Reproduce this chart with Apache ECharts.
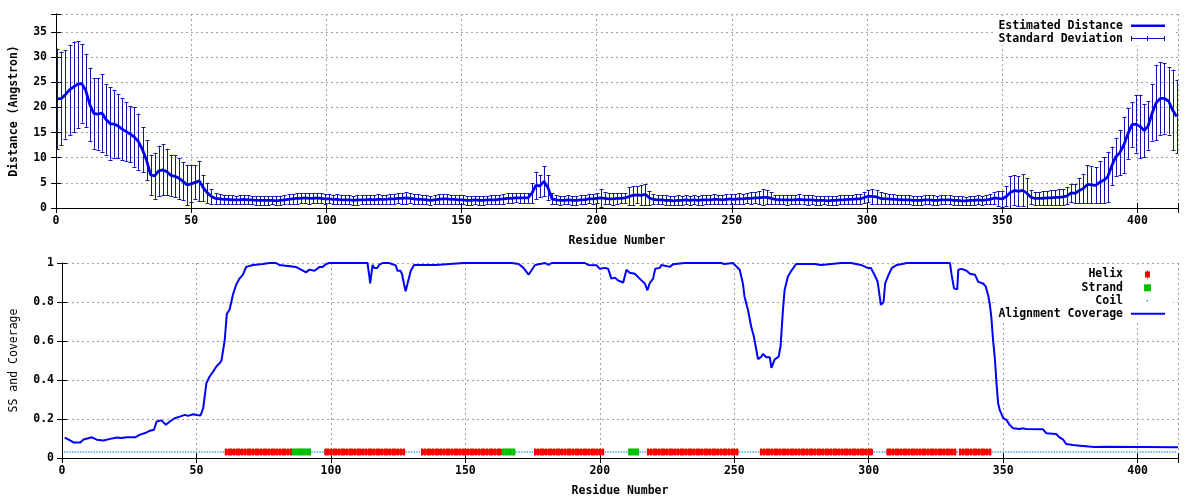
<!DOCTYPE html>
<html><head><meta charset="utf-8">
<script src="https://cdn.jsdelivr.net/npm/echarts@6/dist/echarts.min.js"></script>
<style>html,body{margin:0;padding:0;background:#fff}#c{width:1200px;height:500px}</style>
</head><body><div id="c"></div>
<script>
// ---------- data ----------
const xTickStep = 50;
const residueMax = 415;
const distYMax = 38.6;
const distStart = 0.5, distStep = 1.5;   // residue position of the first estimate, spacing of estimates
const distMean = [
21.7,21.8,22.6,23.5,24.1,24.6,24.8,23.4,20.6,18.8,
18.7,18.9,17.6,16.8,16.7,16.3,15.7,15.2,14.7,14.1,
13.2,11.6,9.5,6.6,6.4,7.4,7.6,7.2,6.5,6.3,
5.9,5.3,4.6,4.8,5.1,5.4,4.0,3.0,2.3,1.9,
1.8,
1.7,1.7,1.6,1.6,1.6,1.7,1.6,1.6,1.5,1.5,
1.5,1.5,1.5,1.4,1.5,1.6,1.7,1.8,1.9,1.9,
2.0,1.9,1.9,2.0,1.9,1.8,1.8,1.7,1.7,1.6,
1.6,1.6,1.5,1.6,1.6,1.6,1.7,1.6,1.7,1.7,
1.7,1.8,1.8,1.9,1.9,2.0,1.9,1.8,1.7,1.7,
1.6,1.5,1.6,1.7,1.8,1.8,1.7,1.7,1.6,1.6,
1.5,1.5,1.6,1.5,1.5,1.6,1.6,1.6,1.7,1.8,
1.9,1.9,2.0,2.0,2.0,2.0,2.9,4.5,4.4,5.3,
4.0,1.8,1.6,1.5,1.5,1.6,1.5,1.5,1.6,1.6,
1.8,1.8,1.9,2.0,1.9,1.8,1.8,1.9,1.9,2.0,
2.3,2.5,2.6,2.5,2.7,2.0,1.7,1.6,1.6,1.5,
1.5,1.4,1.5,1.5,1.6,1.5,1.6,1.5,1.6,1.6,
1.6,1.7,1.7,1.6,1.7,1.8,1.7,1.8,1.8,1.9,
1.9,2.0,2.0,2.1,2.1,1.9,1.7,1.6,1.6,1.6,
1.6,1.6,1.7,1.6,1.6,1.6,1.5,1.5,1.5,1.4,
1.5,1.5,1.6,1.6,1.7,1.7,1.8,1.8,2.1,2.3,
2.3,2.2,1.9,1.8,1.8,1.7,1.7,1.6,1.6,1.6,
1.5,1.5,1.5,1.6,1.6,1.5,1.5,1.6,1.6,1.6,
1.5,1.5,1.4,1.4,1.5,1.5,1.6,1.5,1.6,1.7,
2.0,1.9,1.8,2.3,3.1,3.5,3.3,3.5,3.0,2.2,
1.9,1.9,1.9,2.0,2.0,2.1,2.1,2.2,2.4,3.0,
2.9,3.5,3.9,4.7,4.6,4.5,5.1,5.5,6.2,8.4,
10.2,11.0,12.6,14.8,16.6,16.7,16.2,15.4,16.4,19.0,
21.0,21.8,21.8,21.3,19.5,18.2
];
const distSd = [
10.0,9.3,8.8,9.0,9.0,8.6,7.8,7.3,7.3,7.0,
7.1,7.7,7.0,7.2,6.7,6.4,6.2,5.9,5.6,5.9,
5.6,4.5,4.0,4.0,4.6,5.0,5.1,4.6,4.1,4.2,
4.1,3.8,4.0,3.7,3.4,4.0,2.6,2.0,1.5,1.1,
1.0,
0.9,0.9,0.9,0.8,0.9,0.9,0.9,0.8,0.9,0.9,
0.9,0.9,0.8,0.9,0.9,0.9,1.0,1.0,1.1,1.0,
1.0,1.1,1.0,1.0,1.0,1.0,0.9,0.9,1.0,0.9,
0.9,0.9,0.9,1.0,0.9,0.9,0.9,0.9,1.0,0.9,
0.9,1.0,1.0,1.0,1.1,1.2,1.0,1.0,1.0,0.9,
0.9,0.9,0.9,1.0,1.0,1.0,0.9,0.9,0.9,0.9,
0.9,0.9,0.8,0.9,0.9,0.8,0.9,0.9,0.9,1.0,
1.0,1.0,0.9,1.0,1.0,1.0,2.0,2.7,2.2,3.0,
2.5,1.1,0.9,0.9,0.8,0.9,0.9,0.9,0.9,0.9,
0.9,1.0,1.0,1.8,1.2,1.1,1.2,1.1,1.0,1.0,
1.8,1.9,1.7,2.0,2.1,1.4,1.0,0.9,0.9,1.0,
0.9,0.9,1.0,0.9,0.9,0.9,0.9,0.9,1.0,0.9,
0.9,1.0,0.9,0.9,1.0,1.0,1.0,1.1,1.0,1.0,
1.2,1.1,1.3,1.6,1.4,1.2,0.9,0.9,0.9,1.0,
0.9,0.9,1.0,0.9,1.0,0.9,0.9,0.9,0.8,0.9,
0.9,0.9,0.9,0.9,0.9,0.9,1.0,1.0,1.1,1.2,
1.5,1.4,1.2,1.1,1.0,1.0,0.9,0.9,0.9,0.9,
0.9,0.9,0.9,0.9,0.9,1.0,0.9,0.9,0.9,0.9,
0.9,0.9,0.9,0.8,0.9,0.9,0.9,0.9,0.9,1.0,
1.2,1.5,1.6,2.0,3.2,3.0,3.0,3.2,3.0,1.4,
1.3,1.3,1.4,1.4,1.5,1.5,1.6,1.6,1.7,1.8,
1.9,2.5,2.9,3.8,3.7,3.6,4.2,4.6,5.0,3.8,
3.8,4.5,5.6,5.0,4.4,5.7,6.3,5.3,4.8,5.6,
7.5,7.2,7.0,6.7,8.0,7.3
];
const covResidue = [1,2.5,4.3,6.8,8,8.6,11.1,12.9,15.4,17.9,20.4,22.2,24.1,27.2,27.8,29,30.9,32.7,34.2,35.2,37,38.6,40.1,41.9,43.8,45.7,46.9,48.8,50,51.5,52.5,53.7,54.9,56.2,57.4,58.6,59.3,60.5,61.3,62.3,63.6,64.8,66,67.3,68.5,71,74.7,77.1,79.6,80.8,87.1,90.8,92,93.9,95.7,96.9,98.2,99.4,113.6,114.2,114.6,115.5,116.1,117.3,117.9,119.2,121.6,122.2,124.1,124.7,125.9,126.5,127.2,127.8,128.4,129.7,130.9,138.9,149.4,167.3,169.8,171.6,173.5,174.1,175.9,179.6,180.9,182.1,194.4,195.7,198.8,200,201.9,203.1,204.3,205.6,206.8,208.7,209.9,211.1,213,214.8,216.7,217.7,218.5,219.8,220.6,222.3,222.9,226,227.2,231.5,245.1,246.4,249.5,250.1,252,253.2,253.8,255.1,256.3,257.3,258.2,258.8,260.1,260.7,261.9,263.2,263.8,265,266.5,267.2,268.1,268.7,269.9,271.2,273,279.8,282.3,289.7,293.4,297.1,299.6,300.8,302.1,303.3,303.9,304.5,305.5,306.1,307.4,308.6,310.5,314.2,330.2,330.8,331.7,332.9,333.3,334.5,336.4,337.6,339.5,340.7,342.5,343.5,344.4,345,345.6,346.2,346.9,347.5,348.1,348.7,350,351.2,352.4,353.7,356.1,357.4,358.6,364.8,366,369.7,370.9,372.2,373.4,375.9,379.6,380.2,383.9,384.5,388.2,388.8,415];
const covValue = [0.105,0.094,0.08,0.08,0.095,0.102,0.106,0.094,0.09,0.098,0.105,0.102,0.106,0.106,0.098,0.12,0.128,0.14,0.145,0.187,0.193,0.17,0.187,0.204,0.212,0.221,0.216,0.224,0.221,0.218,0.256,0.384,0.418,0.443,0.469,0.486,0.5,0.603,0.74,0.76,0.84,0.89,0.92,0.94,0.98,0.99,0.995,1.0,1.0,0.99,0.979,0.952,0.966,0.96,0.979,0.979,0.995,1.0,1.0,0.94,0.895,0.99,0.975,0.975,0.99,1.0,1.0,0.99,0.988,0.96,0.96,0.94,0.89,0.855,0.89,0.96,0.99,0.99,1.0,1.0,0.995,0.975,0.94,0.94,0.99,1.0,0.99,1.0,1.0,0.99,0.988,0.97,0.975,0.97,0.92,0.925,0.91,0.9,0.965,0.95,0.945,0.92,0.895,0.86,0.895,0.92,0.97,0.975,0.99,0.98,0.993,1.0,1.0,0.995,1.0,0.99,0.965,0.895,0.827,0.759,0.673,0.622,0.554,0.507,0.52,0.534,0.517,0.517,0.462,0.505,0.52,0.572,0.76,0.86,0.93,0.96,0.995,0.995,0.99,1.0,1.0,0.99,0.975,0.975,0.94,0.905,0.845,0.785,0.8,0.895,0.94,0.975,0.99,1.0,1.0,0.94,0.87,0.865,0.965,0.97,0.96,0.945,0.94,0.903,0.895,0.88,0.835,0.79,0.72,0.61,0.51,0.384,0.281,0.247,0.204,0.195,0.17,0.152,0.149,0.152,0.149,0.147,0.127,0.123,0.106,0.096,0.072,0.067,0.062,0.056,0.056,0.058,0.058,0.055,0.055];
const seqLength = 414;
const helixRanges = [[61,85],[98,127],[134,163],[176,201],[218,251],[260,301],[307,332],[334,345]];
const strandRanges = [[86,88],[89,92],[164,168],[211,214]];
const ssLevel = 0.031;

// ---------- build series data ----------
const distData = distMean.map((m, i) => [distStart + i * distStep, m, distSd[i]]);
const meanData = distMean.map((m, i) => [distStart + i * distStep, m]);
const covData = covResidue.map((r, i) => [r, covValue[i]]);
const ssOf = {};
helixRanges.forEach(([a, b]) => { for (let r = a; r <= b; r++) ssOf[r] = 'H'; });
strandRanges.forEach(([a, b]) => { for (let r = a; r <= b; r++) ssOf[r] = 'E'; });
const helixData = [], strandData = [], coilData = [];
for (let r = 1; r <= seqLength; r++) {
  const s = ssOf[r] || 'C';
  if (s === 'H') helixData.push([r, ssLevel]);
  else if (s === 'E') strandData.push([r, ssLevel]);
  else coilData.push([r, ssLevel]);
}

// ---------- styling ----------
const FONT = 'DejaVu Sans Mono';
const lbl = {fontFamily: FONT, fontWeight: 'bold', fontSize: 11.5, color: '#000'};
const gridLine = {show: true, lineStyle: {color: '#a0a0a0', type: [2, 3], width: 1}};
const axLine = {show: true, lineStyle: {color: '#000', width: 1}};
const tickIn = {show: true, inside: true, length: 5, lineStyle: {color: '#000'}};
const errColor = '#1212b0', meanColor = '#0000f0', covColor = '#0000ff';
const helixColor = '#ff0000', strandColor = '#00c000', coilColor = '#1a8cff';

function xAx(grid, pos, main, name) {
  return {gridIndex: grid, type: 'value', position: pos, min: 0, max: residueMax, interval: xTickStep,
    axisLine: axLine, axisTick: tickIn,
    axisLabel: main ? Object.assign({margin: 7, formatter: v => (v % xTickStep === 0 ? String(v) : '')}, lbl) : {show: false},
    splitLine: main ? gridLine : {show: false},
    name: main ? name : '', nameLocation: 'middle', nameGap: 27, nameTextStyle: lbl};
}

const errRender = (params, api) => {
  const x = api.value(0), m = api.value(1), s = api.value(2);
  const top = api.coord([x, m + s]), bot = api.coord([x, m - s]);
  const px = Math.round(top[0]) + 0.5, w = 2;
  const st = {stroke: errColor, lineWidth: 1, fill: null};
  return {type: 'group', children: [
    {type: 'line', shape: {x1: px, y1: top[1], x2: px, y2: bot[1]}, style: st},
    {type: 'line', shape: {x1: px - w, y1: Math.round(top[1]) + 0.5, x2: px + w, y2: Math.round(top[1]) + 0.5}, style: st},
    {type: 'line', shape: {x1: px - w, y1: Math.round(bot[1]) + 0.5, x2: px + w, y2: Math.round(bot[1]) + 0.5}, style: st}
  ]};
};
const helixRender = (params, api) => {
  const p = api.coord([api.value(0), api.value(1)]);
  const w = api.size([1, 0])[0];
  return {type: 'group', children: [
    {type: 'rect', shape: {x: p[0] - w / 2, y: p[1] - 3, width: w + 0.3, height: 6}, style: {fill: helixColor}},
    {type: 'rect', shape: {x: Math.round(p[0]) - 0.5, y: p[1] - 4, width: 1, height: 8}, style: {fill: helixColor}}
  ]};
};
const strandRender = (params, api) => {
  const p = api.coord([api.value(0), api.value(1)]);
  const w = api.size([1, 0])[0];
  return {type: 'rect', shape: {x: p[0] - w / 2, y: p[1] - 3.5, width: w + 0.3, height: 7}, style: {fill: strandColor}};
};

const txt = (t, x, y) => ({type: 'text', z: 101, style: {text: t, x, y, font: 'bold 11.5px ' + FONT, fill: '#000', align: 'right', verticalAlign: 'middle', textAlign: 'right', textVerticalAlign: 'middle'}});
const ln = (x1, y1, x2, y2, c, w) => ({type: 'line', z: 101, shape: {x1, y1, x2, y2}, style: {stroke: c, lineWidth: w}});

const option = {
  animation: false,
  backgroundColor: '#fff',
  grid: [
    {left: 52, top: 14, width: 1126, height: 194},
    {left: 58, top: 263, width: 1120, height: 195}
  ],
  xAxis: [
    xAx(0, 'bottom', true, 'Residue Number'),
    xAx(0, 'top', false),
    xAx(1, 'bottom', true, 'Residue Number'),
    xAx(1, 'top', false)
  ],
  yAxis: [
    {gridIndex: 0, type: 'value', position: 'left', min: 0, max: distYMax, interval: 5,
      axisLine: axLine, axisTick: tickIn, splitLine: gridLine,
      axisLabel: Object.assign({margin: 9, formatter: v => (Math.abs(v % 5) < 1e-6 ? String(v) : '')}, lbl),
      name: 'Distance (Angstron)', nameLocation: 'middle', nameRotate: 90, nameGap: 36, nameTextStyle: lbl},
    {gridIndex: 0, type: 'value', position: 'right', min: 0, max: distYMax, interval: 5,
      axisLine: axLine, axisTick: tickIn, splitLine: {show: false}, axisLabel: {show: false}},
    {gridIndex: 1, type: 'value', position: 'left', min: 0, max: 1, interval: 0.2,
      axisLine: axLine, axisTick: tickIn, splitLine: gridLine,
      axisLabel: Object.assign({margin: 8, formatter: v => String(+v.toFixed(1))}, lbl),
      name: 'SS and Coverage', nameLocation: 'middle', nameRotate: 90, nameGap: 42,
      nameTextStyle: {fontFamily: FONT, fontWeight: 'normal', fontSize: 11.5, color: '#000'}},
    {gridIndex: 1, type: 'value', position: 'right', min: 0, max: 1, interval: 0.2,
      axisLine: axLine, axisTick: tickIn, splitLine: {show: false}, axisLabel: {show: false}}
  ],
  series: [
    {type: 'custom', name: 'Standard Deviation', xAxisIndex: 0, yAxisIndex: 0, data: distData,
      renderItem: errRender, encode: {x: 0, y: 1}, clip: true, z: 3},
    {type: 'line', name: 'Estimated Distance', xAxisIndex: 0, yAxisIndex: 0, data: meanData,
      showSymbol: false, lineStyle: {color: meanColor, width: 2.8}, z: 4},
    {type: 'line', name: 'Alignment Coverage', xAxisIndex: 2, yAxisIndex: 2, data: covData,
      showSymbol: false, lineStyle: {color: covColor, width: 2}, z: 3},
    {type: 'scatter', name: 'Coil', xAxisIndex: 2, yAxisIndex: 2, data: coilData,
      symbol: 'rect', symbolSize: 1.5, itemStyle: {color: coilColor}, z: 4},
    {type: 'custom', name: 'Helix', xAxisIndex: 2, yAxisIndex: 2, data: helixData,
      renderItem: helixRender, encode: {x: 0, y: 1}, z: 5},
    {type: 'custom', name: 'Strand', xAxisIndex: 2, yAxisIndex: 2, data: strandData,
      renderItem: strandRender, encode: {x: 0, y: 1}, z: 5}
  ],
  graphic: [
    {type: 'rect', z: 100, shape: {x: 996, y: 16, width: 177, height: 29}, style: {fill: '#fff'}},
    txt('Estimated Distance', 1123, 25.7),
    ln(1131, 25.7, 1165, 25.7, meanColor, 2.5),
    txt('Standard Deviation', 1123, 38.7),
    ln(1131, 38.5, 1165, 38.5, errColor, 1),
    ln(1131.5, 36, 1131.5, 41, errColor, 1),
    ln(1147.5, 36, 1147.5, 41, errColor, 1),
    ln(1164.5, 36, 1164.5, 41, errColor, 1),
    {type: 'rect', z: 100, shape: {x: 996, y: 265, width: 177, height: 55}, style: {fill: '#fff'}},
    txt('Helix', 1123, 274.3),
    {type: 'rect', z: 101, shape: {x: 1145, y: 271.5, width: 5, height: 6}, style: {fill: helixColor}},
    {type: 'rect', z: 101, shape: {x: 1147, y: 270.5, width: 1, height: 8}, style: {fill: helixColor}},
    txt('Strand', 1123, 287.7),
    {type: 'rect', z: 101, shape: {x: 1144, y: 284.3, width: 7, height: 7}, style: {fill: strandColor}},
    txt('Coil', 1123, 300.7),
    {type: 'rect', z: 101, shape: {x: 1146.5, y: 300, width: 1.5, height: 1.5}, style: {fill: coilColor}},
    txt('Alignment Coverage', 1123, 313.7),
    ln(1131, 313.7, 1165, 313.7, covColor, 2)
  ]
};
echarts.init(document.getElementById('c'), null, {renderer: 'canvas'}).setOption(option);
</script>
</body></html>
